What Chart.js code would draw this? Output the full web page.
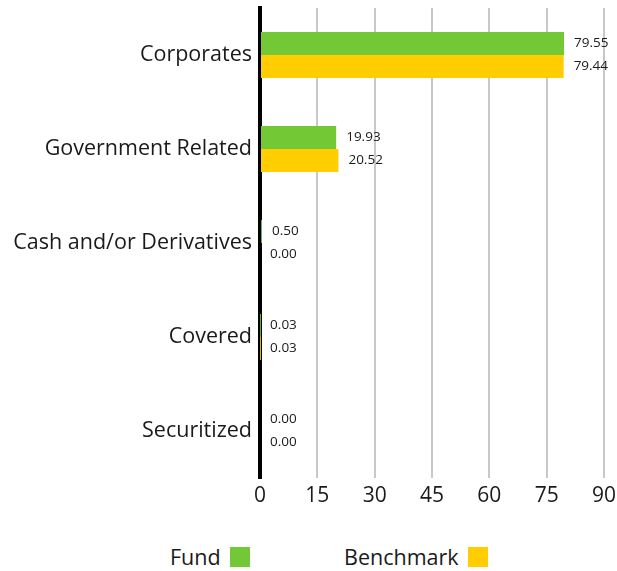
<!DOCTYPE html>
<html>
<head>
<meta charset="utf-8">
<script src="https://cdn.jsdelivr.net/npm/chart.js@4"></script>
<style>
  body { margin: 0; background: #fff; font-family: "Open Sans", sans-serif; }
  #wrap { position: relative; width: 617px; height: 571px; }
  #legend { position: absolute; top: 542px; left: 0; width: 617px; height: 28px; font-size: 21.5px; color: #1a1a1a; }
  .item { position: absolute; top: 0; display: flex; align-items: center; }
  .box { width: 20px; height: 20px; margin-left: 9px; }
</style>
</head>
<body>
<div id="wrap">
  <canvas id="myChart" width="617" height="520"></canvas>
  <div id="legend"></div>
</div>
<script>
const categorias = ["Corporates", "Government Related", "Cash and/or Derivatives", "Covered", "Securitized"];
const fund = [79.55, 19.93, 0.50, 0.03, 0.00];
const benchmark = [79.44, 20.52, 0.00, 0.03, 0.00];
const ticksX = [0, 15, 30, 45, 60, 75, 90];
const colores = ["#73C935", "#FFCD00"];
const nombres = ["Fund", "Benchmark"];

// etiquetas de valor a la derecha de cada barra
const etiquetas = {
  id: "etiquetas",
  afterDatasetsDraw(chart) {
    const ctx = chart.ctx;
    ctx.save();
    ctx.font = "13.5px 'Open Sans'";
    ctx.fillStyle = "#1a1a1a";
    ctx.textBaseline = "middle";
    chart.data.datasets.forEach((ds, i) => {
      chart.getDatasetMeta(i).data.forEach((bar, j) => {
        ctx.fillText(ds.data[j].toFixed(2), bar.x + 10, bar.y);
      });
    });
    ctx.restore();
  }
};

const grafico = new Chart(document.getElementById("myChart").getContext("2d"), {
  type: "bar",
  data: {
    labels: categorias,
    datasets: [
      { label: nombres[0], data: fund, backgroundColor: colores[0] },
      { label: nombres[1], data: benchmark, backgroundColor: colores[1] }
    ]
  },
  options: {
    indexAxis: "y",
    responsive: false,
    animation: false,
    barPercentage: 1,
    categoryPercentage: 0.49,
    layout: { padding: { top: 8, right: 13, left: 0, bottom: 0 } },
    plugins: { legend: { display: false }, tooltip: { enabled: false } },
    scales: {
      x: {
        min: 0,
        max: 90,
        afterBuildTicks: s => { s.ticks = ticksX.map(v => ({ value: v })); },
        afterFit: s => { s.height = 42; s.paddingLeft = 0; s.paddingRight = 0; },
        grid: { color: "#c8c8c8", lineWidth: 2, drawTicks: false },
        border: { display: false },
        ticks: { padding: 5, color: "#1a1a1a", font: { family: "Open Sans", size: 21 } }
      },
      y: {
        afterFit: s => { s.width = 260; s.paddingTop = 0; s.paddingBottom = 0; },
        grid: { display: false, drawTicks: false },
        border: { color: "#000", width: 4 },
        ticks: { padding: 8, color: "#1a1a1a", font: { family: "Open Sans", size: 21.5 } }
      }
    }
  },
  plugins: [etiquetas]
});

// leyenda propia: texto y despues el cuadro
const leyenda = document.getElementById("legend");
const posiciones = [170, 344];
nombres.forEach((n, i) => {
  const div = document.createElement("div");
  div.className = "item";
  div.style.left = posiciones[i] + "px";
  div.innerHTML = `<span>${n}</span><span class="box" style="background:${colores[i]}"></span>`;
  leyenda.appendChild(div);
});
</script>
</body>
</html>
